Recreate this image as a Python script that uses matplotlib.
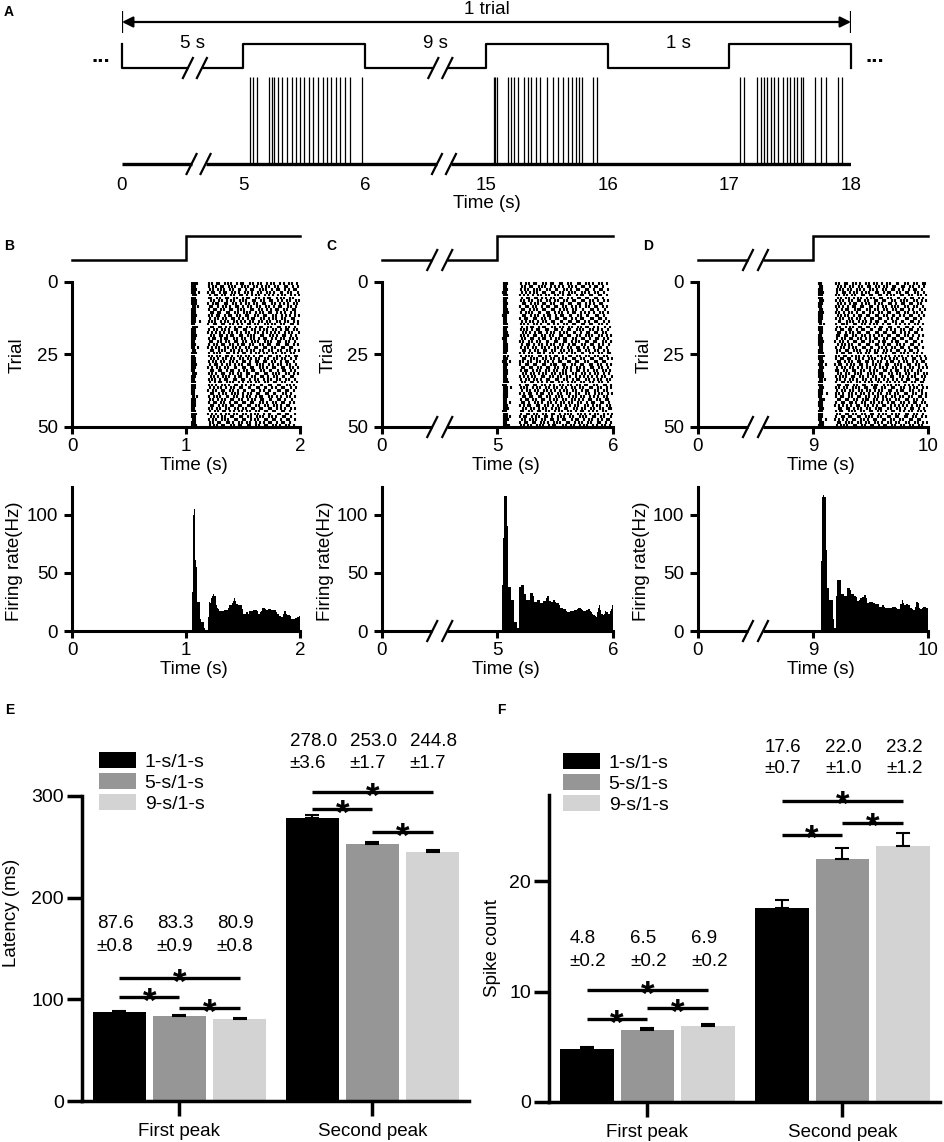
import numpy as np
import matplotlib
matplotlib.use("Agg")
import matplotlib.pyplot as plt

plt.rcParams['font.family'] = ['Liberation Sans', 'DejaVu Sans']

W, H = 945, 1142

# ---------------- data ----------------
# panel A : one trial, time axis broken into equal-width segments
SEG_EDGES_A = [0, 5, 6, 15, 16, 17, 18]
TICKS_A = ['0', '5', '6', '15', '16', '17', '18']
STIM_ON_A = [(5, 6), (15, 16), (17, 18)]
GAP_LABELS_A = ['5 s', '9 s', '1 s']
SPIKES_A = [5.056, 5.081, 5.111, 5.212, 5.232, 5.253, 5.283, 5.318, 5.354, 5.399,
            5.434, 5.465, 5.500, 5.540, 5.576, 5.616, 5.652, 5.687, 5.722, 5.763,
            5.793, 5.833, 5.874, 5.975,
            15.058, 15.072, 15.087, 15.179, 15.203, 15.227, 15.261, 15.309, 15.338,
            15.367, 15.411, 15.444, 15.502, 15.551, 15.589, 15.628, 15.667, 15.700,
            15.734, 15.763, 15.783, 15.874, 15.908,
            17.089, 17.118, 17.227, 17.256, 17.281, 17.305, 17.340, 17.369, 17.399,
            17.443, 17.473, 17.498, 17.527, 17.557, 17.586, 17.606, 17.700, 17.749,
            17.798, 17.897, 17.926]

# panels B-D : spike times (ms after onset of the 1-s stimulus), 50 trials
RASTER_MS = [
    [54, 61, 70, 83, 96, 203, 226, 268, 287, 341, 372, 398, 447, 481, 502, 563, 590, 634, 660, 711, 749, 772, 823, 858, 904, 931, 977],
    [52, 59, 67, 76, 198, 241, 259, 305, 322, 378, 401, 433, 490, 517, 541, 598, 623, 668, 702, 729, 785, 811, 866, 889, 942, 985],
    [57, 63, 72, 88, 214, 235, 281, 310, 337, 389, 412, 461, 478, 526, 569, 588, 646, 677, 698, 752, 794, 817, 871, 903, 950, 968],
    [53, 60, 69, 79, 112, 195, 229, 247, 296, 331, 355, 407, 429, 468, 520, 547, 579, 632, 655, 714, 738, 769, 829, 846, 897, 925, 981],
    [58, 64, 73, 85, 207, 252, 274, 318, 346, 391, 423, 470, 493, 538, 582, 611, 640, 693, 724, 761, 803, 842, 870, 921, 958, 994],
    [51, 58, 66, 77, 201, 220, 269, 299, 348, 367, 420, 446, 499, 531, 556, 614, 637, 681, 719, 741, 796, 830, 861, 915, 940],
    [56, 62, 71, 91, 218, 244, 290, 313, 362, 394, 417, 476, 504, 529, 584, 603, 659, 686, 733, 757, 809, 838, 884, 912, 962, 987],
    [55, 62, 73, 84, 196, 233, 262, 284, 340, 358, 411, 438, 482, 522, 550, 597, 627, 674, 696, 755, 780, 826, 864, 891, 946, 972],
    [59, 66, 75, 104, 209, 231, 277, 321, 352, 384, 437, 459, 503, 546, 573, 620, 648, 700, 727, 771, 815, 837, 893, 917, 969],
    [52, 61, 69, 76, 200, 248, 266, 307, 333, 386, 405, 455, 486, 512, 566, 592, 641, 671, 709, 744, 788, 807, 858, 886, 937, 960],
    [54, 60, 67, 78, 221, 239, 285, 302, 357, 380, 431, 452, 509, 535, 558, 617, 650, 678, 726, 750, 801, 834, 869, 924, 952],
    [57, 63, 74, 84, 199, 227, 271, 293, 344, 375, 396, 449, 473, 527, 548, 604, 629, 683, 704, 763, 790, 845, 876, 908, 955, 991],
    [53, 61, 68, 80, 211, 256, 279, 325, 350, 402, 425, 467, 498, 541, 575, 599, 658, 680, 730, 766, 786, 840, 872, 926, 947],
    [56, 64, 72, 78, 121, 204, 230, 258, 311, 339, 370, 421, 444, 485, 519, 561, 589, 643, 667, 712, 736, 799, 821, 867, 894, 944, 979],
    [51, 60, 66, 72, 197, 245, 264, 316, 336, 387, 409, 458, 488, 540, 563, 608, 635, 689, 716, 758, 779, 833, 862, 919, 939, 984],
    [58, 65, 75, 93, 216, 237, 289, 306, 354, 383, 432, 463, 480, 533, 560, 612, 647, 670, 721, 748, 805, 828, 880, 905, 957],
    [55, 63, 70, 82, 203, 249, 272, 319, 343, 377, 427, 450, 506, 528, 577, 601, 652, 684, 707, 765, 792, 832, 874, 899, 951, 975],
    [52, 61, 69, 75, 194, 226, 260, 300, 329, 381, 403, 451, 479, 524, 553, 606, 628, 676, 711, 745, 783, 814, 865, 903, 928, 988],
    [57, 64, 71, 86, 222, 243, 294, 315, 360, 393, 416, 471, 495, 544, 571, 593, 655, 679, 734, 760, 802, 848, 871, 921, 963],
    [54, 62, 70, 81, 202, 238, 255, 309, 341, 364, 419, 443, 492, 516, 567, 594, 638, 687, 703, 753, 787, 836, 859, 914, 942, 976],
    [53, 60, 65, 74, 213, 232, 283, 303, 351, 376, 429, 448, 501, 523, 576, 605, 633, 690, 718, 747, 808, 825, 881, 907, 956],
    [56, 62, 67, 79, 199, 250, 268, 312, 334, 390, 413, 460, 491, 510, 565, 587, 649, 673, 722, 739, 797, 819, 873, 898, 945, 980],
    [51, 59, 65, 71, 109, 193, 224, 261, 292, 345, 366, 415, 441, 477, 529, 552, 609, 626, 680, 701, 756, 781, 841, 863, 913, 934],
    [58, 64, 72, 83, 217, 236, 288, 317, 339, 395, 418, 465, 487, 536, 568, 596, 651, 675, 725, 752, 806, 831, 885, 909, 959, 992],
    [55, 62, 66, 87, 205, 247, 270, 298, 356, 378, 424, 454, 502, 518, 570, 616, 639, 688, 713, 767, 789, 843, 866, 920, 948],
    [52, 60, 67, 73, 198, 228, 275, 297, 347, 372, 406, 457, 483, 530, 557, 600, 645, 669, 728, 742, 800, 823, 876, 901, 953, 977],
    [57, 63, 68, 80, 220, 242, 280, 324, 349, 399, 422, 474, 496, 548, 572, 618, 642, 695, 717, 770, 794, 846, 868, 925, 961],
    [54, 63, 71, 79, 206, 234, 265, 308, 332, 385, 410, 445, 497, 521, 559, 610, 634, 685, 706, 751, 784, 835, 878, 896, 949],
    [53, 61, 69, 85, 212, 257, 276, 320, 359, 382, 430, 462, 489, 545, 564, 619, 653, 672, 729, 759, 811, 829, 883, 911, 966],
    [56, 65, 70, 76, 197, 225, 273, 295, 342, 369, 426, 440, 499, 514, 574, 591, 646, 677, 708, 762, 782, 838, 857, 916, 941, 983],
    [51, 57, 62, 74, 215, 240, 291, 311, 358, 392, 414, 466, 505, 532, 580, 597, 656, 682, 735, 749, 804, 850, 869, 922, 954],
    [58, 67, 75, 90, 203, 231, 263, 314, 337, 388, 408, 453, 481, 539, 555, 613, 630, 691, 710, 764, 791, 820, 877, 906, 950, 986],
    [55, 63, 70, 81, 219, 246, 278, 322, 355, 374, 428, 464, 486, 537, 578, 602, 660, 674, 723, 771, 795, 847, 862, 917, 938],
    [52, 60, 66, 72, 200, 229, 257, 301, 346, 363, 417, 439, 494, 513, 562, 607, 631, 686, 715, 743, 798, 826, 874, 902, 958],
    [57, 62, 66, 78, 210, 253, 286, 304, 361, 390, 411, 468, 500, 543, 566, 615, 644, 697, 720, 768, 786, 839, 870, 927, 970],
    [54, 64, 72, 83, 204, 227, 267, 316, 338, 380, 434, 447, 493, 525, 573, 598, 654, 671, 731, 746, 803, 822, 882, 908, 947],
    [53, 61, 67, 77, 214, 244, 282, 307, 353, 396, 420, 472, 487, 549, 561, 621, 640, 692, 705, 758, 793, 844, 860, 918, 964],
    [56, 62, 68, 74, 196, 235, 259, 313, 335, 384, 409, 456, 508, 520, 577, 595, 648, 683, 727, 740, 807, 827, 879, 897, 943],
    [51, 58, 63, 71, 223, 239, 292, 326, 350, 401, 433, 458, 504, 547, 569, 624, 637, 699, 719, 773, 785, 849, 873, 923],
    [58, 65, 73, 95, 201, 248, 271, 299, 357, 371, 425, 450, 497, 534, 558, 611, 650, 668, 724, 754, 796, 832, 886, 910, 957],
    [55, 62, 70, 80, 212, 233, 284, 318, 344, 397, 415, 469, 490, 541, 579, 603, 657, 679, 736, 744, 809, 824, 868, 928],
    [52, 61, 69, 77, 199, 245, 262, 310, 331, 386, 430, 444, 501, 517, 570, 592, 646, 676, 712, 765, 788, 842, 861, 915, 945],
    [57, 63, 69, 82, 218, 237, 289, 323, 348, 394, 412, 467, 485, 546, 565, 617, 636, 694, 717, 769, 797, 837, 884, 904],
    [54, 60, 66, 73, 205, 228, 274, 296, 352, 377, 426, 455, 500, 527, 576, 599, 653, 670, 730, 750, 802, 830, 871, 924, 960],
    [53, 59, 66, 78, 209, 255, 277, 321, 340, 389, 418, 463, 492, 539, 560, 614, 641, 696, 711, 763, 783, 845, 863, 912],
    [56, 63, 72, 85, 195, 232, 263, 306, 354, 373, 422, 446, 498, 526, 571, 609, 628, 685, 726, 741, 805, 821, 880, 899, 952],
    [51, 58, 64, 75, 216, 250, 280, 315, 338, 398, 408, 470, 488, 544, 567, 620, 649, 672, 732, 757, 790, 848, 866, 919],
    [58, 63, 67, 79, 202, 241, 266, 317, 345, 370, 431, 451, 503, 515, 574, 604, 634, 689, 709, 767, 781, 834, 887, 906, 955],
    [55, 62, 68, 75, 211, 234, 285, 302, 359, 381, 413, 466, 494, 536, 563, 615, 645, 681, 728, 745, 800, 843, 859, 913],
    [52, 60, 68, 84, 207, 249, 270, 314, 333, 392, 419, 461, 484, 542, 559, 612, 638, 693, 714, 764, 792, 828, 875, 902, 949],
]

# PSTH, 10-ms bins over the 1 s after stimulus onset (Hz)
BIN_MS = 10
PSTH_B = [0, 0, 0, 0, 0, 34, 100, 105, 61, 55,
          25, 25, 10, 8, 8, 8, 3, 0, 0, 12,
          25, 24, 28, 30, 32, 30, 22, 20, 19, 17,
          17, 17, 17, 18, 18, 18, 18, 20, 22, 22,
          24, 26, 28, 26, 23, 23, 22, 22, 22, 19,
          15, 15, 15, 16, 15, 17, 17, 17, 17, 18,
          18, 18, 17, 15, 15, 16, 17, 20, 20, 19,
          18, 18, 19, 19, 19, 18, 18, 18, 18, 16,
          15, 15, 13, 12, 12, 15, 17, 17, 15, 14,
          14, 13, 10, 10, 10, 10, 11, 12, 12, 13]
PSTH_C = [0, 0, 0, 0, 40, 80, 116, 116, 90, 38,
          38, 38, 27, 27, 8, 8, 8, 3, 3, 38,
          40, 40, 40, 32, 32, 27, 27, 27, 33, 33,
          33, 30, 25, 25, 27, 27, 27, 24, 24, 26,
          26, 26, 28, 30, 30, 26, 25, 25, 27, 27,
          25, 24, 24, 22, 20, 20, 20, 19, 19, 17,
          16, 16, 16, 17, 17, 17, 18, 18, 18, 19,
          20, 20, 19, 18, 17, 17, 17, 18, 19, 19,
          17, 16, 15, 14, 13, 12, 16, 20, 22, 18,
          15, 14, 15, 17, 16, 16, 15, 17, 19, 22]
PSTH_D = [0, 0, 0, 0, 0, 0, 0, 60, 115, 117,
          115, 70, 37, 37, 27, 27, 27, 10, 3, 3,
          30, 44, 44, 44, 32, 32, 32, 30, 30, 30,
          37, 37, 35, 32, 32, 32, 30, 29, 26, 26,
          27, 28, 28, 29, 31, 31, 28, 24, 24, 25,
          25, 25, 24, 24, 23, 23, 23, 21, 21, 21,
          22, 22, 21, 20, 20, 20, 20, 20, 20, 21,
          21, 21, 20, 19, 19, 19, 23, 27, 24, 22,
          22, 23, 23, 22, 20, 20, 19, 18, 18, 21,
          25, 24, 20, 19, 19, 20, 21, 21, 20, 20]

TICKS_B = ['0', '1', '2']
TICKS_C = ['0', '5', '6']
TICKS_D = ['0', '9', '10']

# panels E-F
GROUPS = ['First peak', 'Second peak']
CONDITIONS = ['1-s/1-s', '5-s/1-s', '9-s/1-s']
COLORS = ['#000000', '#969696', '#d3d3d3']
LAT_MEAN = [[87.6, 83.3, 80.9], [278.0, 253.0, 244.8]]
LAT_SEM = [[0.8, 0.9, 0.8], [3.6, 1.7, 1.7]]
CNT_MEAN = [[4.8, 6.5, 6.9], [17.6, 22.0, 23.2]]
CNT_SEM = [[0.2, 0.2, 0.2], [0.7, 1.0, 1.2]]
# significance bars: (bar i, bar j, height) per group
SIG_E = [[(0, 2, 121), (0, 1, 102), (1, 2, 91.5)],
         [(0, 2, 304), (0, 1, 287), (1, 2, 264.5)]]
SIG_F = [[(0, 2, 10.1), (0, 1, 7.5), (1, 2, 8.5)],
         [(0, 2, 27.3), (0, 1, 24.2), (1, 2, 25.3)]]

FS = 13.5
LW = 2.2


def rect(l, t, r, b):
    return [l / W, 1 - b / H, (r - l) / W, (b - t) / H]


def ftext(x, y, s, **kw):
    kw.setdefault('ha', 'center')
    kw.setdefault('va', 'center')
    kw.setdefault('fontsize', FS)
    fig.text(x / W, 1 - y / H, s, **kw)


def brk(ax, x, y, gap=15, h=10, slant=5, lw=1.6):
    # "//" break mark, sizes in pixels
    x0, x1 = ax.get_xlim()
    y0, y1 = ax.get_ylim()
    sx = (x1 - x0) / ax.bbox.width
    sy = (y1 - y0) / ax.bbox.height
    ax.plot([x - gap / 2 * sx, x + gap / 2 * sx], [y, y], color='w', lw=5,
            solid_capstyle='butt', clip_on=False, zorder=5)
    for d in (-gap / 2, gap / 2):
        ax.plot([x + (d - slant) * sx, x + (d + slant) * sx],
                [y - h * sy, y + h * sy], color='k', lw=lw, clip_on=False, zorder=6)


fig = plt.figure(figsize=(W / 100, H / 100), dpi=100)

# ---------------- A ----------------
axA = fig.add_axes(rect(122, 0, 851, 200))
axA.set_xlim(0, 6)
axA.set_ylim(200, 0)
axA.axis('off')
seg = np.arange(len(SEG_EDGES_A))


def to_disp(t):
    return np.interp(t, SEG_EDGES_A, seg)


HI, LO = 44, 68
xs, ys = [0, 0], [HI, LO]
for on, off in STIM_ON_A:
    a, b = to_disp(on), to_disp(off)
    xs += [a, a, b, b]
    ys += [LO, HI, HI, LO]
axA.plot(xs, ys, color='k', lw=1.6, clip_on=False)
axA.vlines(to_disp(np.array(SPIKES_A)), 77, 164, color='k', lw=0.9)
axA.plot([0, 6], [164, 164], color='k', lw=2.4, solid_capstyle='butt')
axA.annotate('', xy=(0, 22), xytext=(6, 22),
             arrowprops=dict(arrowstyle='<|-|>', color='k', lw=1.6,
                             mutation_scale=16, shrinkA=0, shrinkB=0))
axA.vlines([0, 6], 11, 33, color='k', lw=1.6)
axA.text(3, 10, '1 trial', ha='center', va='center', fontsize=FS)
for k, lab in enumerate(GAP_LABELS_A):
    axA.text(0.58 + 2 * k, 44, lab, ha='center', va='center', fontsize=FS)
axA.text(-0.17, 62, '...', ha='center', va='baseline', fontsize=16, fontweight='bold', clip_on=False)
axA.text(6.2, 62, '...', ha='center', va='baseline', fontsize=16, fontweight='bold', clip_on=False)
for k, lab in enumerate(TICKS_A):
    axA.text(k, 185, lab, ha='center', va='center', fontsize=FS)
axA.text(3, 203, 'Time (s)', ha='center', va='center', fontsize=FS)
for xb in (0.6, 2.62):
    brk(axA, xb, LO, gap=14, h=10, slant=5)
    brk(axA, xb + 0.03, 164, gap=14, h=10, slant=5)

# ---------------- B, C, D ----------------
cols = [(72, 300, TICKS_B, PSTH_B, RASTER_MS, False, 'B', 9),
        (382, 613, TICKS_C, PSTH_C, RASTER_MS[::-1], True, 'C', 331),
        (698, 928, TICKS_D, PSTH_D, RASTER_MS[25:] + RASTER_MS[:25], True, 'D', 648)]

for l, r, ticks, psth, rows, broken, letter, lx in cols:
    # stimulus trace
    axs = fig.add_axes(rect(l, 226, r, 270))
    axs.set_xlim(0, 2)
    axs.set_ylim(270, 226)
    axs.axis('off')
    axs.plot([0, 1, 1, 2], [260, 260, 236, 236], color='k', lw=1.8,
             solid_joinstyle='miter', clip_on=False)
    if broken:
        brk(axs, 0.5, 260)

    # raster
    axr = fig.add_axes(rect(l, 282, r, 427))
    axr.eventplot([1 + np.array(tr) / 1000 for tr in rows],
                  lineoffsets=np.arange(len(rows)) + 0.5, linelengths=0.95,
                  linewidths=1.5, colors='k')
    axr.set_xlim(0, 2)
    axr.set_ylim(50, 0)
    axr.set_yticks([0, 25, 50])
    axr.set_xticks([0, 1, 2])
    axr.set_xticklabels(ticks)

    # PSTH
    axp = fig.add_axes(rect(l, 487, r, 631))
    edges = 1 + np.arange(len(psth) + 1) * BIN_MS / 1000
    axp.stairs(psth, edges, fill=True, color='k', baseline=0)
    axp.set_xlim(0, 2)
    axp.set_ylim(0, 124)
    axp.set_yticks([0, 50, 100])
    axp.set_xticks([0, 1, 2])
    axp.set_xticklabels(ticks)

    for ax in (axr, axp):
        for s in ('top', 'right'):
            ax.spines[s].set_visible(False)
        for s in ('left', 'bottom'):
            ax.spines[s].set_linewidth(LW)
        ax.tick_params(axis='y', length=6, width=LW, labelsize=FS, pad=4)
        ax.tick_params(axis='x', length=5, width=LW, labelsize=FS, pad=3)
    if broken:
        brk(axr, 0.5, 50)
        brk(axp, 0.5, 0)

    xlab = l - 55 if letter == 'B' else l - 54
    ftext(xlab, 355, 'Trial', rotation=90)
    ftext(xlab - 2, 561, 'Firing rate(Hz)', rotation=90)
    ftext((l + r) / 2 + 8, 466, 'Time (s)')
    ftext((l + r) / 2 + 8, 670, 'Time (s)')
    ftext(lx, 246, letter, fontsize=10, fontweight='bold')

ftext(9, 12, 'A', fontsize=10, fontweight='bold')

# ---------------- E, F ----------------
OFFS = np.array([-1, 0, 1]) * 0.311
BW = 0.275


def bar_panel(ax, means, sems, sigs, ylim, yticks, txt_y, txt_dx):
    gx = np.arange(len(GROUPS))
    for j in range(3):
        xs = gx + OFFS[j]
        m = [means[g][j] for g in gx]
        s = [sems[g][j] for g in gx]
        ax.bar(xs, m, width=BW, color=COLORS[j], label=CONDITIONS[j], zorder=2)
        ax.errorbar(xs, m, yerr=[np.zeros(len(s)), s], fmt='none', ecolor='k',
                    elinewidth=1.5, capsize=5, capthick=1.5, zorder=3)
        for g in gx:
            x0 = g + OFFS[j] - BW / 2 + txt_dx
            ax.text(x0, txt_y[g][0], '%.1f' % means[g][j], ha='left', va='center', fontsize=FS)
            ax.text(x0, txt_y[g][1], '\u00b1%.1f' % sems[g][j], ha='left', va='center', fontsize=FS)
    for g in gx:
        for i, k, yv in sigs[g]:
            xa, xb = g + OFFS[i], g + OFFS[k]
            ax.plot([xa, xb], [yv, yv], color='k', lw=2.4, solid_capstyle='butt', clip_on=False)
            ax.annotate('*', xy=((xa + xb) / 2, yv), xytext=(0, -10.5), textcoords='offset points',
                        ha='center', va='baseline', fontsize=25, fontweight='bold',
                        annotation_clip=False)
    ax.set_xlim(-0.505, 1.5)
    ax.set_ylim(*ylim)
    ax.set_yticks(yticks)
    ax.set_xticks(gx)
    ax.set_xticklabels(GROUPS)
    for s in ('top', 'right'):
        ax.spines[s].set_visible(False)
    for s in ('left', 'bottom'):
        ax.spines[s].set_linewidth(2.5)
    ax.tick_params(axis='y', length=11, width=2.5, labelsize=14, pad=2)
    ax.tick_params(axis='x', length=11, width=2.5, labelsize=FS, pad=5)


axE = fig.add_axes(rect(82, 796, 469, 1101))
bar_panel(axE, LAT_MEAN, LAT_SEM, SIG_E, (0, 300), [0, 100, 200, 300],
          [(175, 152), (354, 332)], 0.02)
axE.legend(loc='upper left', bbox_to_anchor=((99 - 82) / 387, (1101 - 752) / 305),
           frameon=False, fontsize=14, handlelength=1.9, handleheight=0.9,
           labelspacing=0.12, handletextpad=0.45, borderpad=0, borderaxespad=0)
ftext(12, 913, 'Latency (ms)', rotation=90)
ftext(10, 710, 'E', fontsize=10, fontweight='bold')

axF = fig.add_axes(rect(549, 795, 940, 1102))
bar_panel(axF, CNT_MEAN, CNT_SEM, SIG_F, (0, 27.8), [0, 10, 20],
          [(14.8, 12.7), (32.1, 30.2)], 0.05)
axF.legend(loc='upper left', bbox_to_anchor=((563 - 549) / 391, (1102 - 753) / 307),
           frameon=False, fontsize=14, handlelength=1.9, handleheight=0.9,
           labelspacing=0.12, handletextpad=0.45, borderpad=0, borderaxespad=0)
ftext(493, 948, 'Spike count', rotation=90)
ftext(501, 710, 'F', fontsize=10, fontweight='bold')

fig.savefig('out.png', dpi=100)
